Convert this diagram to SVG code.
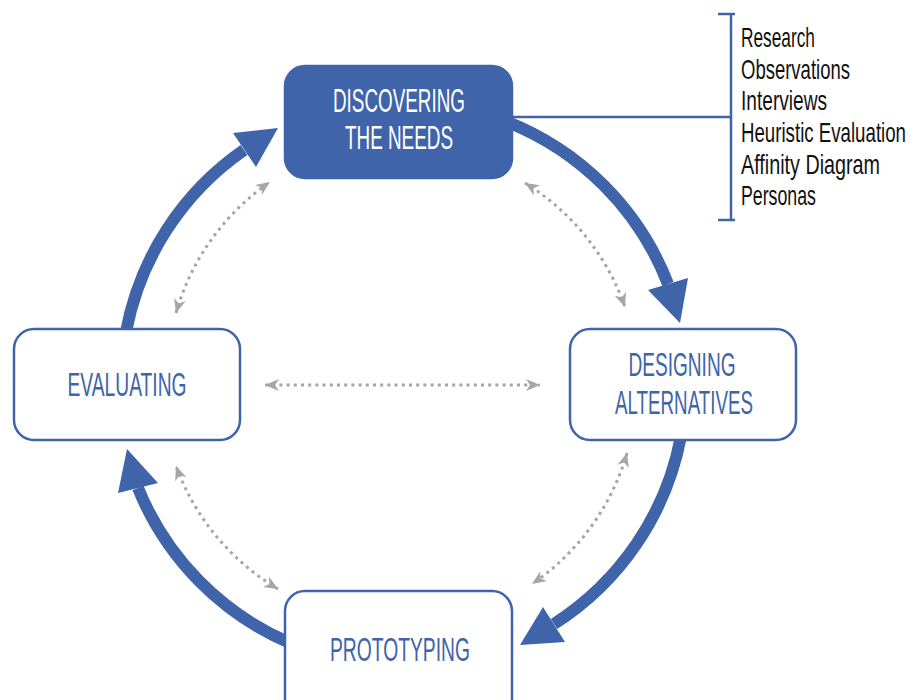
<svg xmlns="http://www.w3.org/2000/svg" width="910" height="700" viewBox="0 0 910 700">
  <defs>
    <style>
      .box { fill: #ffffff; stroke: #4064a9; stroke-width: 2.5; }
      .box-solid { fill: #4064a9; stroke: #4064a9; stroke-width: 2.5; }
      .label { font-family: "Liberation Sans", Arial, sans-serif; font-size: 33px; text-anchor: middle; fill: #4064a9; }
      .label-inv { fill: #ffffff; }
      .item { font-family: "Liberation Sans", Arial, sans-serif; font-size: 27px; fill: #111111; }
      .flow { fill: none; stroke: #4064a9; stroke-width: 12; }
      .head { fill: #4064a9; }
      .link { fill: none; stroke: #a6a6a6; stroke-width: 3; stroke-dasharray: 3 4.2; }
      .bracket { fill: none; stroke: #4064a9; stroke-width: 2.5; }
    </style>
    <marker id="dot-arrow" viewBox="0 0 14 12" refX="14" refY="6" markerWidth="14" markerHeight="12" markerUnits="userSpaceOnUse" orient="auto-start-reverse">
      <path d="M0,0 L14,6 L0,12 L4,6 Z" fill="#a6a6a6"/>
    </marker>
  </defs>

  <!-- main cycle and cross links -->
  <g id="connectors">
    <path class="flow" d="M505,121 A285,285 0 0 1 668,284"/>
    <polygon class="head" points="648,290 688,278 680,323"/>

    <path class="flow" d="M681,436 A285,285 0 0 1 554,624"/>
    <polygon class="head" points="543,607 565,642 520,645"/>

    <path class="flow" d="M290,643 A285,285 0 0 1 138,488"/>
    <polygon class="head" points="127,449 118,493 158,483"/>

    <path class="flow" d="M126,332 A285,285 0 0 1 244,150"/>
    <polygon class="head" points="233,133 278,128 256,167"/>

    <path class="link" d="M525,183 A238,238 0 0 1 625,307" marker-start="url(#dot-arrow)" marker-end="url(#dot-arrow)"/>
    <path class="link" d="M627,453 A238,238 0 0 1 532,584" marker-start="url(#dot-arrow)" marker-end="url(#dot-arrow)"/>
    <path class="link" d="M278,589 A238,238 0 0 1 176,466" marker-start="url(#dot-arrow)" marker-end="url(#dot-arrow)"/>
    <path class="link" d="M176,313 A238,238 0 0 1 270,182" marker-start="url(#dot-arrow)" marker-end="url(#dot-arrow)"/>
    <path class="link" d="M265,385 L540,385" marker-start="url(#dot-arrow)" marker-end="url(#dot-arrow)"/>

    <!-- methods bracket -->
    <path class="bracket" d="M513,117 L731,117 M718,14 L735,14 M731,14 L731,220 M718,220 L735,220"/>
  </g>

  <g id="discovering">
    <rect class="box-solid" x="285" y="66" width="227" height="112" rx="20"/>
    <text class="label label-inv" x="399" y="112" textLength="132" lengthAdjust="spacingAndGlyphs">DISCOVERING</text>
    <text class="label label-inv" x="399" y="149" textLength="108" lengthAdjust="spacingAndGlyphs">THE NEEDS</text>
  </g>

  <g id="designing">
    <rect class="box" x="570" y="329" width="226" height="111" rx="20"/>
    <text class="label" x="682" y="376" textLength="107" lengthAdjust="spacingAndGlyphs">DESIGNING</text>
    <text class="label" x="684" y="414" textLength="138" lengthAdjust="spacingAndGlyphs">ALTERNATIVES</text>
  </g>

  <g id="prototyping">
    <rect class="box" x="285" y="591" width="227" height="130" rx="20"/>
    <text class="label" x="400" y="661" textLength="140" lengthAdjust="spacingAndGlyphs">PROTOTYPING</text>
  </g>

  <g id="evaluating">
    <rect class="box" x="14" y="329" width="226" height="111" rx="20"/>
    <text class="label" x="127" y="396" textLength="119" lengthAdjust="spacingAndGlyphs">EVALUATING</text>
  </g>

  <!-- list set in a horizontally condensed frame (scale 0.7) -->
  <g id="methods" transform="translate(741,0) scale(0.7,1)">
    <text class="item" x="0" y="47" textLength="105.7" lengthAdjust="spacingAndGlyphs">Research</text>
    <text class="item" x="0" y="79" textLength="155.7" lengthAdjust="spacingAndGlyphs">Observations</text>
    <text class="item" x="0" y="110" textLength="122.9" lengthAdjust="spacingAndGlyphs">Interviews</text>
    <text class="item" x="0" y="142" textLength="235.7" lengthAdjust="spacingAndGlyphs">Heuristic Evaluation</text>
    <text class="item" x="0" y="174" textLength="198.6" lengthAdjust="spacingAndGlyphs">Affinity Diagram</text>
    <text class="item" x="0" y="205" textLength="107.1" lengthAdjust="spacingAndGlyphs">Personas</text>
  </g>
</svg>
